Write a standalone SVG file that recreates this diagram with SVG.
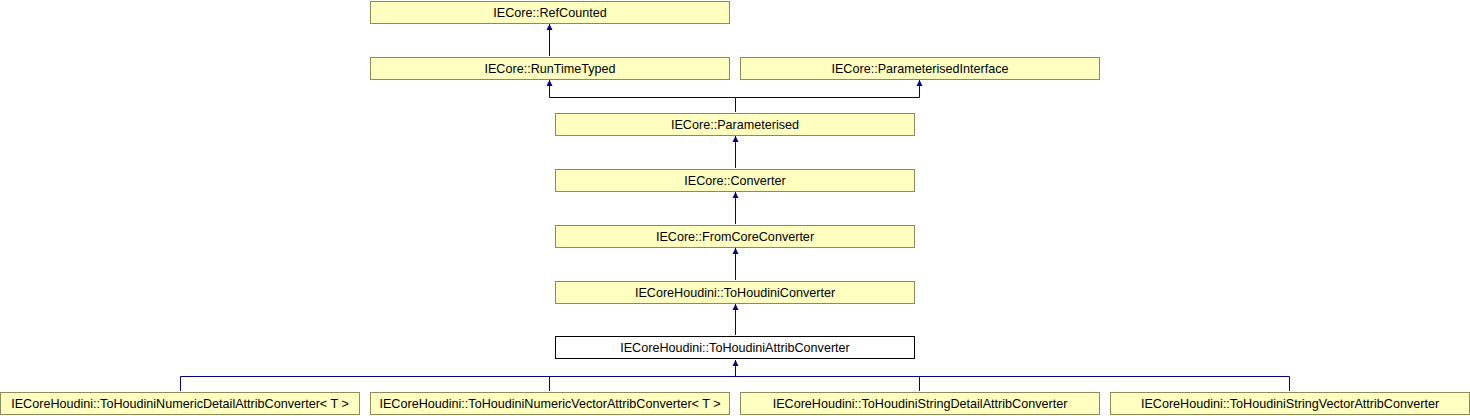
<svg xmlns="http://www.w3.org/2000/svg" width="1470" height="416" viewBox="0 0 1470 416">
<style>
.n rect{fill:#ffffc0;stroke:#8c8c5a;stroke-width:1}
.n.w rect{fill:#ffffff;stroke:#000000}
.n text{font-family:"Liberation Sans",Arial,sans-serif;font-size:12.6px;fill:#000;text-anchor:middle}
.e{fill:none;stroke:#000080;stroke-width:1}
</style>
<defs>
<marker id="a" markerWidth="6" markerHeight="7" refX="6" refY="3.5" orient="auto" markerUnits="userSpaceOnUse">
<path d="M0,0.5 L6,3.5 L0,6.5 z" fill="#000080"/>
</marker>
</defs>
<rect width="1470" height="416" fill="#ffffff"/>
<g id="connectors">
<path class="e" d="M549.5,56 V24" marker-end="url(#a)"/>
<path class="e" d="M735.5,112 V97.5 H549.5 V80" marker-end="url(#a)"/>
<path class="e" d="M735.5,97.5 H919.5 V80" marker-end="url(#a)"/>
<path class="e" d="M735.5,168 V136" marker-end="url(#a)"/>
<path class="e" d="M735.5,224 V192" marker-end="url(#a)"/>
<path class="e" d="M735.5,280 V248" marker-end="url(#a)"/>
<path class="e" d="M735.5,335 V304" marker-end="url(#a)"/>
<path class="e" d="M180.5,391 V376.5 H1289.5 V391"/>
<path class="e" d="M549.5,391 V376.5"/>
<path class="e" d="M919.5,391 V376.5"/>
<path class="e" d="M735.5,376.5 V360" marker-end="url(#a)"/>
</g>
<g id="n_refcounted" class="n"><rect x="370.5" y="1.5" width="359" height="22"/><text x="550" y="16.5">IECore::RefCounted</text></g>
<g id="n_runtimetyped" class="n"><rect x="370.5" y="57.5" width="359" height="22"/><text x="550" y="72.5">IECore::RunTimeTyped</text></g>
<g id="n_paraminterface" class="n"><rect x="740.5" y="57.5" width="359" height="22"/><text x="920" y="72.5">IECore::ParameterisedInterface</text></g>
<g id="n_parameterised" class="n"><rect x="555.5" y="113.5" width="359" height="22"/><text x="735" y="128.5">IECore::Parameterised</text></g>
<g id="n_converter" class="n"><rect x="555.5" y="169.5" width="359" height="22"/><text x="735" y="184.5">IECore::Converter</text></g>
<g id="n_fromcore" class="n"><rect x="555.5" y="225.5" width="359" height="22"/><text x="735" y="240.5">IECore::FromCoreConverter</text></g>
<g id="n_tohoudini" class="n"><rect x="555.5" y="281.5" width="359" height="22"/><text x="735" y="296.5">IECoreHoudini::ToHoudiniConverter</text></g>
<g id="n_attrib" class="n w"><rect x="555.5" y="336.5" width="359" height="22"/><text x="735" y="351.5">IECoreHoudini::ToHoudiniAttribConverter</text></g>
<g id="n_numdetail" class="n"><rect x="0.5" y="392.5" width="359" height="22"/><text x="180" y="407.5">IECoreHoudini::ToHoudiniNumericDetailAttribConverter&lt; T &gt;</text></g>
<g id="n_numvector" class="n"><rect x="370.5" y="392.5" width="359" height="22"/><text x="550" y="407.5">IECoreHoudini::ToHoudiniNumericVectorAttribConverter&lt; T &gt;</text></g>
<g id="n_strdetail" class="n"><rect x="740.5" y="392.5" width="359" height="22"/><text x="920" y="407.5">IECoreHoudini::ToHoudiniStringDetailAttribConverter</text></g>
<g id="n_strvector" class="n"><rect x="1110.5" y="392.5" width="359" height="22"/><text x="1290" y="407.5">IECoreHoudini::ToHoudiniStringVectorAttribConverter</text></g>
</svg>
